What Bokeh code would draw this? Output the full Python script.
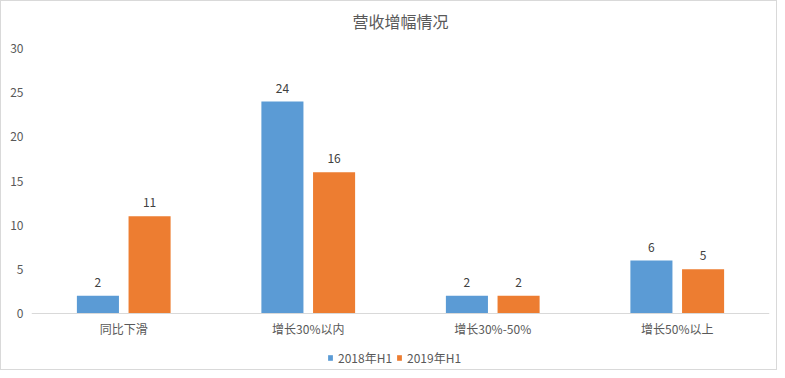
from bokeh.plotting import figure
from bokeh.models import (ColumnDataSource, FactorRange, Range1d, FixedTicker, LabelSet,
                          Legend, LegendItem, Label, Span)
from bokeh.core.properties import value
from bokeh.transform import dodge
from bokeh.embed import file_html
from bokeh.resources import INLINE

categories = ["同比下滑", "增长30%以内", "增长30%-50%", "增长50%以上"]
values_2018 = [2, 24, 2, 6]
values_2019 = [11, 16, 2, 5]
series_names = ["2018年H1", "2019年H1"]
y_ticks = [0, 5, 10, 15, 20, 25, 30]
title_text = "营收增幅情况"

FONT = "Noto Sans CJK SC"
BLUE = "#5B9BD5"
ORANGE = "#ED7D31"
AXIS_TXT = "#595959"

W, H = 777, 370
TOP, BASE, LEFT, RIGHT = 47, 312, 30, 768
Y_MAX = 30
px_per_unit = (BASE - TOP) / Y_MAX
# the frame spans the whole canvas height; the value axis shows 0..30 only
y_low = -(H - BASE) / px_per_unit
y_high = Y_MAX + TOP / px_per_unit

source = ColumnDataSource(data=dict(cat=categories, a=values_2018, b=values_2019,
                                    a_txt=[str(v) for v in values_2018],
                                    b_txt=[str(v) for v in values_2019]))

p = figure(x_range=FactorRange(factors=categories), y_range=Range1d(y_low, y_high),
           width=W, height=H, output_backend="svg", toolbar_location=None,
           min_border_left=LEFT, min_border_right=W - RIGHT, min_border_top=0, min_border_bottom=0)
p.styles = {"border": "1px solid #d9d9d9", "box-sizing": "border-box"}

r1 = p.vbar(x=dodge("cat", -0.14, range=p.x_range), top="a", width=0.228, source=source,
            fill_color=BLUE, line_color=None)
r2 = p.vbar(x=dodge("cat", 0.14, range=p.x_range), top="b", width=0.228, source=source,
            fill_color=ORANGE, line_color=None)

for col, txt, off in (("a", "a_txt", -0.14), ("b", "b_txt", 0.14)):
    lab = LabelSet(x=dodge("cat", off, range=p.x_range), y=col, text=txt, source=source,
                   text_align="center", text_baseline="bottom", y_offset=9,
                   text_font=value(FONT), text_font_size="12px", text_color="#404040")
    p.add_layout(lab)

p.add_layout(Span(location=0, dimension="width", line_color="#d9d9d9", line_width=1))

p.text(x="cat", y=0, text="cat", source=source, text_align="center", text_baseline="middle",
       y_offset=15, text_font=value(FONT), text_font_size="12px", text_color=AXIS_TXT)

# chart title, centred over the category axis
p.add_layout(Label(x=len(categories) / 2, y=Y_MAX, y_offset=28, text=title_text,
                   text_align="center", text_baseline="middle",
                   text_font=FONT, text_font_size="16px", text_color=AXIS_TXT))

p.grid.visible = False
p.outline_line_color = None
p.xaxis.visible = False

p.yaxis.ticker = FixedTicker(ticks=y_ticks)
p.yaxis.axis_line_color = None
p.yaxis.major_tick_line_color = None
p.yaxis.minor_tick_line_color = None
p.yaxis.major_tick_out = 0
p.yaxis.major_tick_in = 0
p.yaxis.major_label_standoff = 8
p.yaxis.major_label_text_font = FONT
p.yaxis.major_label_text_font_size = "12px"
p.yaxis.major_label_text_color = AXIS_TXT

legend = Legend(items=[LegendItem(label=series_names[0], renderers=[r1]),
                       LegendItem(label=series_names[1], renderers=[r2])],
                orientation="horizontal", location=(296, 5),
                glyph_width=6, glyph_height=7, label_standoff=5, spacing=4,
                padding=4, margin=0, border_line_color=None, background_fill_alpha=0,
                label_text_font=FONT, label_text_font_size="12px", label_text_color=AXIS_TXT)
p.add_layout(legend, "center")

open("out.html", "w").write(file_html(p, INLINE))
